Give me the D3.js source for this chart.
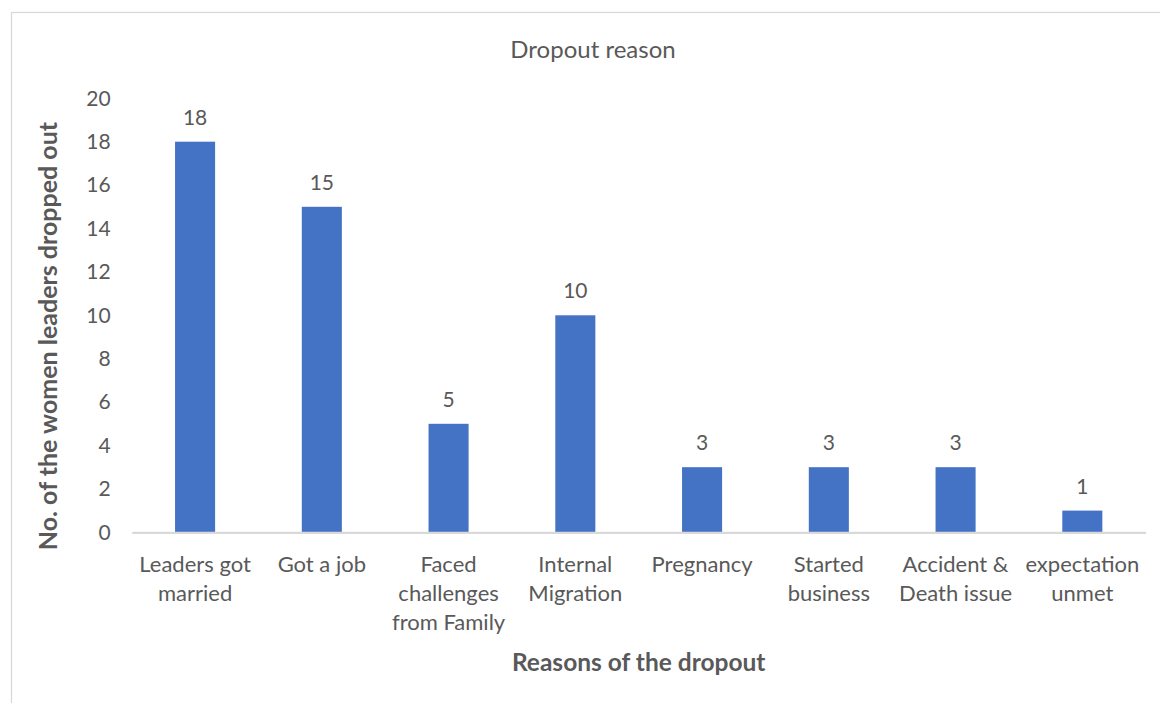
<!DOCTYPE html>
<html>
<head>
<meta charset="utf-8">
<script src="https://cdn.jsdelivr.net/npm/d3@7"></script>
<style>
  html, body { margin: 0; padding: 0; background: #fff; }
  svg { display: block; }
  text { font-family: Lato, "Open Sans", sans-serif; fill: #595959; }
</style>
</head>
<body>
<svg id="chart" width="1160" height="703"></svg>
<script>
// Reasons (each entry's line breaks as printed under the axis)
const categories = [
  "Leaders got\nmarried",
  "Got a job",
  "Faced\nchallenges\nfrom Family",
  "Internal\nMigration",
  "Pregnancy",
  "Started\nbusiness",
  "Accident &\nDeath issue",
  "expectation\nunmet"
];
const dropouts = [18, 15, 5, 10, 3, 3, 3, 1];
const yTicks = [0, 2, 4, 6, 8, 10, 12, 14, 16, 18, 20];

const chartTitle = "Dropout reason";
const xTitle = "Reasons of the dropout";
const yTitle = "No. of the women leaders dropped out";

const svg = d3.select("#chart");
const plot = { left: 131.7, right: 1145.7, top: 98.3, bottom: 532.3 };
const labelSize = 22;

// chart frame (extends past the canvas on the right and bottom)
svg.append("rect")
  .attr("x", 11.5).attr("y", 12.5)
  .attr("width", 1180).attr("height", 720)
  .attr("fill", "none").attr("stroke", "#d9d9d9").attr("stroke-width", 1.3);

const x = d3.scaleBand()
  .domain(categories)
  .range([plot.left, plot.right])
  .paddingInner(0.684)
  .paddingOuter(0.342);

const y = d3.scaleLinear()
  .domain([0, 20])
  .range([plot.bottom, plot.top]);

// y axis labels (no axis line, no ticks)
const yAxis = svg.append("g")
  .attr("transform", `translate(${plot.left},0)`)
  .call(d3.axisLeft(y).tickValues(yTicks).tickSize(0).tickPadding(21));
yAxis.select(".domain").remove();
yAxis.selectAll("text")
  .attr("font-size", 21)
  .attr("fill", "#595959")
  .style("font-family", "Lato, 'Open Sans', sans-serif");

// bars
svg.append("g").selectAll("rect")
  .data(dropouts)
  .join("rect")
  .attr("x", (d, i) => x(categories[i]))
  .attr("y", d => y(d))
  .attr("width", x.bandwidth())
  .attr("height", d => y(0) - y(d))
  .attr("fill", "#4472c4");

// value labels
svg.append("g").selectAll("text")
  .data(dropouts)
  .join("text")
  .attr("x", (d, i) => x(categories[i]) + x.bandwidth() / 2)
  .attr("y", d => y(d) - 17)
  .attr("text-anchor", "middle")
  .attr("font-size", 21)
  .text(d => d);

// x axis baseline and category labels
const xAxis = svg.append("g")
  .attr("transform", `translate(0,${plot.bottom})`)
  .call(d3.axisBottom(x).tickSize(0).tickFormat(""));
xAxis.select(".domain")
  .attr("stroke", "#d9d9d9").attr("stroke-width", 2.2);

xAxis.selectAll(".tick").each(function(cat) {
  const t = d3.select(this).append("text")
    .attr("text-anchor", "middle")
    .attr("font-size", labelSize)
    .attr("fill", "#595959")
    .attr("y", 40);
  cat.split("\n").forEach((line, k) => {
    t.append("tspan").attr("x", 0).attr("dy", k === 0 ? 0 : 29).text(line);
  });
});

// titles
svg.append("text")
  .attr("x", 593).attr("y", 58)
  .attr("text-anchor", "middle")
  .attr("font-size", 24)
  .text(chartTitle);

svg.append("text")
  .attr("x", (plot.left + plot.right) / 2).attr("y", 671)
  .attr("text-anchor", "middle")
  .attr("font-size", 24.5)
  .attr("font-weight", "bold")
  .text(xTitle);

svg.append("text")
  .attr("transform", "translate(57,336) rotate(-90)")
  .attr("text-anchor", "middle")
  .attr("font-size", 25)
  .attr("font-weight", "bold")
  .text(yTitle);
</script>
</body>
</html>
